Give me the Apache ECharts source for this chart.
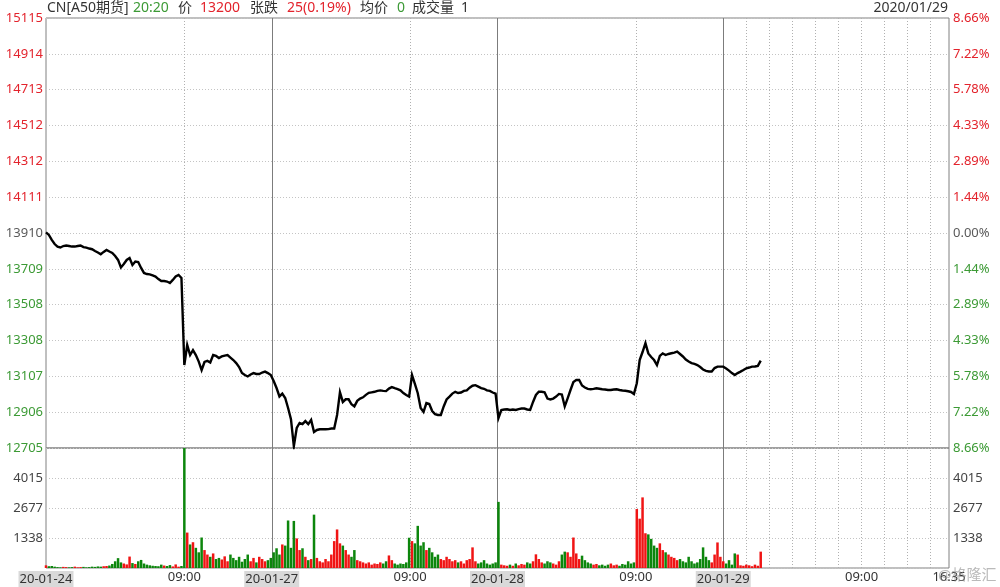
<!DOCTYPE html>
<html>
<head>
<meta charset="utf-8">
<script src="https://cdn.jsdelivr.net/npm/echarts@6.0.0/dist/echarts.min.js"></script>
<style>html,body{margin:0;padding:0;background:#fff}#c{width:1000px;height:587px}</style>
</head>
<body>
<div id="c"></div>
<script>
// ---------- data ----------
const STEP = 15;            // minutes per sample
const DAY_MINUTES = 1175;   // 17:00-05:00 + 09:00-16:35
const TOTAL_MINUTES = 4 * DAY_MINUTES;

const prices = [
13913,13899,13871,13848,13834,13829,13837,13840,13837,13834,
13834,13837,13840,13831,13828,13823,13819,13809,13801,13791,
13804,13815,13806,13798,13781,13759,13717,13736,13759,13770,
13731,13750,13747,13714,13686,13680,13678,13672,13666,13652,
13641,13641,13638,13630,13647,13666,13675,13658,13170,13282,
13226,13254,13226,13189,13142,13187,13193,13184,13226,13221,
13209,13218,13223,13226,13212,13198,13181,13159,13125,13114,
13106,13117,13125,13120,13120,13128,13133,13125,13114,13080,
13041,12994,13010,12985,12929,12867,12715,12817,12845,12839,
12856,12839,12862,12795,12806,12810,12810,12810,12811,12814,
12814,12890,13017,12963,12978,12978,12950,12938,12969,12982,
12989,13003,13014,13017,13020,13025,13028,13025,13024,13038,
13046,13040,13035,13028,13013,13002,12993,13114,13064,13012,
12929,12907,12957,12952,12912,12895,12890,12890,12938,12977,
12993,13010,13020,13013,13016,13025,13028,13043,13054,13057,
13049,13041,13037,13028,13025,13016,13010,12873,12918,12921,
12922,12918,12921,12918,12923,12926,12926,12921,12918,12963,
13002,13020,13020,13017,12982,12977,12982,12993,13008,13005,
12938,12983,13030,13075,13086,13086,13055,13044,13036,13034,
13036,13040,13037,13034,13033,13030,13030,13033,13034,13030,
13027,13026,13023,13019,13008,13068,13198,13243,13293,13235,
13215,13198,13170,13221,13235,13226,13232,13236,13240,13245,
13232,13218,13201,13190,13181,13176,13170,13159,13145,13137,
13134,13134,13153,13161,13161,13161,13151,13139,13125,13114,
13125,13133,13142,13152,13156,13161,13162,13165,13195
];

const volumes = [
120,80,90,60,40,30,50,40,30,40,
60,30,40,50,30,40,60,50,70,60,
80,90,110,180,300,440,250,200,160,510,
220,180,300,360,200,150,120,100,90,80,
150,110,90,130,70,160,60,90,
5350,1580,1050,1150,900,700,1360,800,600,500,
650,400,450,380,520,300,600,450,350,500,
280,400,600,300,450,250,500,400,300,350,450,
700,880,600,1050,1000,2120,900,2100,1320,800,
880,500,350,400,2380,450,300,250,400,300,
600,1200,1720,1100,1000,800,600,500,800,350,
300,250,200,250,150,200,180,250,200,300,
560,350,200,150,200,180,250,1350,
1200,1100,1880,1000,1150,800,900,700,500,600,
400,350,500,400,300,350,250,300,200,350,
400,920,300,200,250,350,200,150,200,250,
2950,150,120,100,150,100,200,120,180,150,
250,200,300,610,400,250,200,300,250,200,
150,300,600,730,700,500,1360,650,400,550,
350,250,200,150,180,120,150,100,150,200,
120,150,100,180,150,300,200,250,
2630,2200,3150,1550,1500,1300,1000,900,1100,800,
700,600,500,450,350,400,300,250,500,300,
200,250,400,920,500,350,250,600,1140,500,300,
200,350,150,650,600,120,100,150,120,80,150,100,730
];

const BASE_PRICE = 13910;
const PRICE_MIN = 12705;
const PRICE_MAX = 15115;
const VOL_MAX = 5353;

const priceTicks = ['12705','12906','13107','13308','13508','13709','13910','14111','14312','14512','14713','14914','15115'];
const pctTicks   = ['8.66%','7.22%','5.78%','4.33%','2.89%','1.44%','0.00%','1.44%','2.89%','4.33%','5.78%','7.22%','8.66%'];
const volTicks   = ['','1338','2677','4015',''];

const xTickMinutes = [0, 720, 1175, 1895, 2350, 3070, 3525, 4245, 4700];
const xTickLabels  = ['20-01-24','09:00','20-01-27','09:00','20-01-28','09:00','20-01-29','09:00','16:35'];

const dayLines = [1175, 2350, 3525];
const dotLines = [720, 1895, 3070, 3645, 3765, 3885, 4005, 4125, 4245, 4365, 4485, 4605];

const headerTexts  = ['CN[A50期货]','20:20','价','13200','张跌','25(0.19%)','均价','0','成交量','1'];
const headerKinds  = ['k','g','k','r','k','r','k','g','k','k'];
const headerDate = '2020/01/29';
const watermark = '@格隆汇';

// ---------- styling / layout ----------
const headerX = [47,133,178,200,250,287,360,397,412,461];
const FONT = '"Noto Sans", "Noto Sans CJK SC", sans-serif';
const RED = '#e3232c', GREEN = '#3c9a35', GRAY = '#5a5a5a', DARK = '#333333';
const kindColor = {k: DARK, g: GREEN, r: RED};

const pctStep = (PRICE_MAX - PRICE_MIN) / 12 / BASE_PRICE * 100;
const pctMin = (PRICE_MIN - BASE_PRICE) / BASE_PRICE * 100;
const volStep = VOL_MAX / 4;

const tickIdx = v => Math.round((v - pctMin) / pctStep);
const tickColor = v => { const k = tickIdx(v); return k > 6 ? RED : (k < 6 ? GREEN : GRAY); };

const priceData = prices.map((p, i) => [i * STEP, (p - BASE_PRICE) / BASE_PRICE * 100]);
const volData = volumes.map((v, i) => ({
  value: [i * STEP, v],
  itemStyle: { color: (i === 0 || prices[i] >= prices[i - 1]) ? '#f01414' : '#0c860c' }
}));

const solidLine = { color: '#7c7c7c', width: 1, type: 'solid' };
const dotLine = { color: '#b0b0b0', width: 1, type: [1, 2] };
const mkLine = () => ({
  silent: true, symbol: ['none', 'none'], label: { show: false }, animation: false,
  emphasis: { disabled: true },
  data: dayLines.map(m => ({ xAxis: m, lineStyle: solidLine }))
        .concat(dotLines.map(m => ({ xAxis: m, lineStyle: dotLine })))
});

const gridCommon = { left: 46, right: 51, show: true, borderColor: '#808080', borderWidth: 1, containLabel: false };

const chart = echarts.init(document.getElementById('c'), null, { renderer: 'canvas' });

const graphics = headerTexts.map((t, i) => ({
  type: 'text', x: headerX[i], y: 8.5,
  style: { text: t, fill: kindColor[headerKinds[i]], font: '14px ' + FONT, verticalAlign: 'middle', align: 'left' }
}));
graphics.push({ type: 'text', x: 948, y: 8.5, style: { text: headerDate, fill: DARK, font: '14px ' + FONT, verticalAlign: 'middle', align: 'right' } });
graphics.push({ type: 'text', x: 938, y: 576, z: 100, style: { text: watermark, fill: 'rgba(140,140,140,0.6)', font: '15px ' + FONT, verticalAlign: 'middle', align: 'left' } });

const option = {
  animation: false,
  backgroundColor: '#ffffff',
  textStyle: { fontFamily: FONT },
  grid: [
    Object.assign({ top: 18, height: 430 }, gridCommon),
    Object.assign({ top: 448, height: 122 }, gridCommon)
  ],
  xAxis: [
    { gridIndex: 0, type: 'value', min: 0, max: TOTAL_MINUTES,
      axisLine: { show: false }, axisTick: { show: false }, axisLabel: { show: false }, splitLine: { show: false } },
    { gridIndex: 1, type: 'value', min: 0, max: TOTAL_MINUTES,
      axisLine: { show: false }, axisTick: { show: false }, splitLine: { show: false },
      axisLabel: {
        customValues: xTickMinutes, margin: 3, fontSize: 13, color: DARK, fontFamily: FONT,
        formatter: v => {
          let k = 0, best = 1e9;
          xTickMinutes.forEach((m, j) => { if (Math.abs(m - v) < best) { best = Math.abs(m - v); k = j; } });
          const t = xTickLabels[k];
          return t.indexOf('-') >= 0 ? '{d|' + t + '}' : t;
        },
        rich: { d: { backgroundColor: '#d9d9d9', padding: [2, 1, 1, 1], fontSize: 13, color: DARK, fontFamily: FONT } }
      } }
  ],
  yAxis: [
    { gridIndex: 0, type: 'value', position: 'left', min: pctMin, max: -pctMin, interval: pctStep,
      axisLine: { show: false }, axisTick: { show: false },
      splitLine: { show: true, lineStyle: { color: '#c4c4c4', type: [1, 2] } },
      axisLabel: { margin: 3, fontSize: 13, fontFamily: FONT, formatter: v => priceTicks[tickIdx(v)], color: tickColor } },
    { gridIndex: 0, type: 'value', position: 'right', min: pctMin, max: -pctMin, interval: pctStep,
      axisLine: { show: false }, axisTick: { show: false }, splitLine: { show: false },
      axisLabel: { margin: 4, fontSize: 13, fontFamily: FONT, formatter: v => pctTicks[tickIdx(v)], color: tickColor } },
    { gridIndex: 1, type: 'value', position: 'left', min: 0, max: VOL_MAX, interval: volStep,
      axisLine: { show: false }, axisTick: { show: false },
      splitLine: { show: true, lineStyle: { color: '#c4c4c4', type: [1, 2] } },
      axisLabel: { margin: 3, fontSize: 13, fontFamily: FONT, color: '#444', formatter: v => volTicks[Math.round(v / volStep)] } },
    { gridIndex: 1, type: 'value', position: 'right', min: 0, max: VOL_MAX, interval: volStep,
      axisLine: { show: false }, axisTick: { show: false }, splitLine: { show: false },
      axisLabel: { margin: 4, fontSize: 13, fontFamily: FONT, color: '#444', formatter: v => volTicks[Math.round(v / volStep)] } }
  ],
  series: [
    { type: 'line', xAxisIndex: 0, yAxisIndex: 0, data: priceData, showSymbol: false, symbol: 'none',
      lineStyle: { color: '#000', width: 2.4, join: 'miter' }, z: 5, markLine: mkLine() },
    { type: 'bar', xAxisIndex: 1, yAxisIndex: 2, data: volData, barWidth: 2.5, z: 5, markLine: mkLine() }
  ],
  graphic: graphics
};
chart.setOption(option);
</script>
</body>
</html>
